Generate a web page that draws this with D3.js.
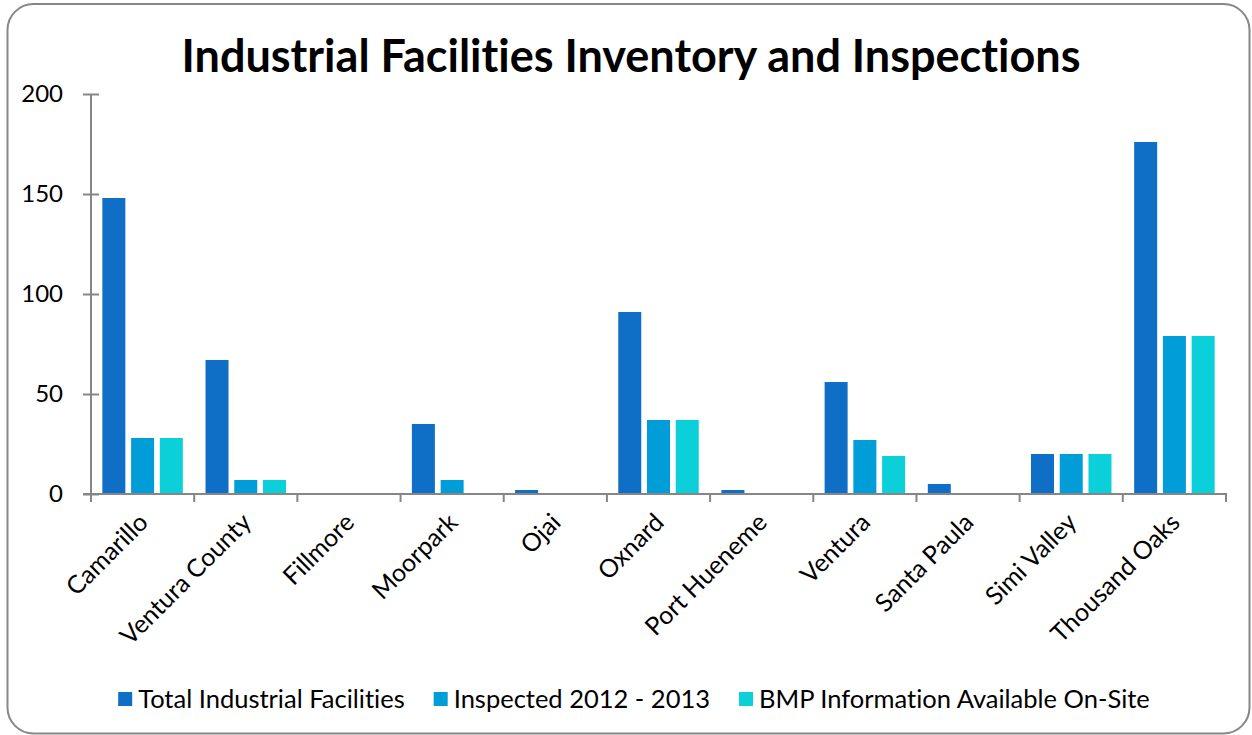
<!DOCTYPE html>
<html>
<head>
<meta charset="utf-8">
<script src="https://cdn.jsdelivr.net/npm/d3@7/dist/d3.min.js"></script>
<style>
  html, body { margin: 0; padding: 0; background: #fff; }
  svg { display: block; font-family: Lato, "Open Sans", sans-serif; font-variant-ligatures: none; }
</style>
</head>
<body>
<svg id="chart" width="1252" height="735"></svg>
<script>
const title = "Industrial Facilities Inventory and Inspections";
const categories = ["Camarillo", "Ventura County", "Fillmore", "Moorpark", "Ojai", "Oxnard",
                    "Port Hueneme", "Ventura", "Santa Paula", "Simi Valley", "Thousand Oaks"];
const seriesNames = ["Total Industrial Facilities", "Inspected 2012 - 2013", "BMP Information Available On-Site"];
const totalFacilities = [148, 67, 0, 35, 2, 91, 2, 56, 5, 20, 176];
const inspected = [28, 7, 0, 7, 0, 37, 0, 27, 0, 20, 79];
const bmpOnSite = [28, 7, 0, 0, 0, 37, 0, 19, 0, 20, 79];
const yTicks = [0, 50, 100, 150, 200];
const colors = ["#0F6FC6", "#009DD9", "#0BD0D9"];

const seriesValues = [totalFacilities, inspected, bmpOnSite];
const rows = categories.map((c, i) => ({ cat: c, vals: seriesValues.map(s => s[i]) }));

const svg = d3.select("#chart");
const plot = { left: 91, right: 1226, top: 94, bottom: 494 };
const axisColor = "#868686";

// outer rounded border
svg.append("rect")
  .attr("x", 7.5).attr("y", 4).attr("width", 1242).attr("height", 729.5)
  .attr("rx", 26).attr("ry", 26)
  .attr("fill", "#fff").attr("stroke", "#878787").attr("stroke-width", 2);

// title
svg.append("text")
  .attr("x", 631).attr("y", 72)
  .attr("text-anchor", "middle")
  .attr("font-size", 45).attr("font-weight", 700).attr("fill", "#000")
  .text(title);

const x0 = d3.scaleBand().domain(categories).range([plot.left, plot.right]).paddingInner(0).paddingOuter(0);
const bw = x0.bandwidth();
const x1 = d3.scaleBand().domain([0, 1, 2]).range([bw * 0.11, bw * 0.89]).paddingInner(0.2).paddingOuter(0);
const y = d3.scaleLinear().domain([0, 200]).range([plot.bottom, plot.top]);

// bars
const g = svg.append("g");
const groups = g.selectAll("g.cat").data(rows).join("g")
  .attr("transform", d => `translate(${x0(d.cat)},0)`);
groups.selectAll("rect").data(d => d.vals.map((v, k) => ({ v, k }))).join("rect")
  .attr("x", d => x1(d.k))
  .attr("width", x1.bandwidth())
  .attr("y", d => y(d.v))
  .attr("height", d => y(0) - y(d.v))
  .attr("fill", d => colors[d.k]);

// y axis
const yAxis = d3.axisLeft(y).tickValues(yTicks).tickSize(8).tickPadding(20);
const gy = svg.append("g").attr("transform", `translate(${plot.left},0)`).call(yAxis);
gy.select(".domain").attr("stroke", axisColor).attr("stroke-width", 2).attr("d", `M0,${plot.top}V${plot.bottom}`);
gy.selectAll(".tick line").attr("stroke", axisColor).attr("stroke-width", 2).attr("x1", 8).attr("x2", -8);
gy.selectAll(".tick text").attr("font-size", 24).attr("fill", "#000").attr("font-family", "Lato, sans-serif");

// x axis line with boundary ticks
const gx = svg.append("g");
gx.append("line").attr("x1", plot.left - 8).attr("x2", plot.right + 1)
  .attr("y1", plot.bottom).attr("y2", plot.bottom)
  .attr("stroke", axisColor).attr("stroke-width", 2);
const boundaries = categories.map(c => x0(c)).concat([plot.right]);
gx.selectAll("line.b").data(boundaries).join("line").attr("class", "b")
  .attr("x1", d => d).attr("x2", d => d)
  .attr("y1", plot.bottom).attr("y2", plot.bottom + 8)
  .attr("stroke", axisColor).attr("stroke-width", 2);

// category labels
gx.selectAll("text.cat").data(categories).join("text").attr("class", "cat")
  .attr("transform", d => `translate(${x0(d) + bw / 2 + 7},${plot.bottom + 30}) rotate(-45)`)
  .attr("text-anchor", "end")
  .attr("font-size", 25).attr("fill", "#000")
  .text(d => d);

// legend
const legend = svg.append("g");
const items = legend.selectAll("g").data(seriesNames).join("g");
items.append("rect").attr("width", 14).attr("height", 14).attr("y", -16).attr("fill", (d, i) => colors[i]);
items.append("text").attr("x", 20).attr("font-size", 25.5).attr("fill", "#000").text(d => d);
const widths = [];
items.each(function () { widths.push(this.getBBox().width); });
const gap = 29;
const total = d3.sum(widths) + gap * (widths.length - 1);
let cx = 634 - total / 2;
items.attr("transform", (d, i) => { const t = `translate(${cx},708)`; cx += widths[i] + gap; return t; });
</script>
</body>
</html>
